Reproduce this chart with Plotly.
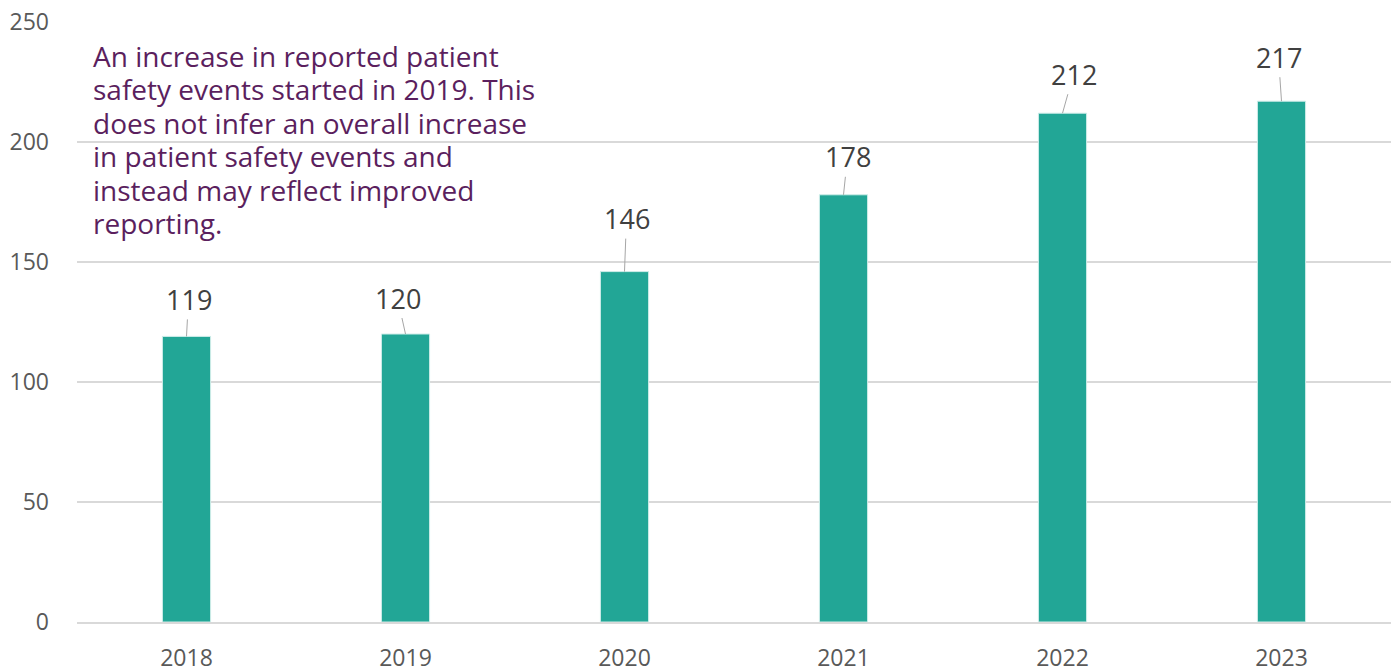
import plotly.graph_objects as go

years = ["2018", "2019", "2020", "2021", "2022", "2023"]
events = [119, 120, 146, 178, 212, 217]
label_dx = [2, -8, 2, 4, 11, -3]
label_dy = [-37, -36, -53, -38, -39, -44]
note_lines = [
    "An increase in reported patient",
    "safety events started in 2019. This",
    "does not infer an overall increase",
    "in patient safety events and",
    "instead may reflect improved",
    "reporting.",
]

FONT = "Open Sans"
fig = go.Figure(go.Bar(
    x=years, y=events,
    marker=dict(color="#22A696", line=dict(color="#CFEDE9", width=1)),
    width=0.22,
    hoverinfo="x+y",
))

for i, (v, dx, dy) in enumerate(zip(events, label_dx, label_dy)):
    fig.add_annotation(
        x=i, y=v, xref="x", yref="y", text=str(v), showarrow=True, arrowhead=0,
        arrowwidth=1, arrowcolor="#A6A6A6", ax=dx, ay=dy, standoff=0,
        font=dict(family=FONT, size=27, color="#404040"),
    )

for k, line in enumerate(note_lines):
    yc = 56 + 33.4 * k  # pixel from top of figure
    fig.add_annotation(
        xref="paper", yref="paper", x=0.0115, y=(622 - yc) / 600,
        xanchor="left", yanchor="middle", borderpad=0,
        text=line, showarrow=False, align="left",
        font=dict(family=FONT, size=28, color="#5B1F5E"),
    )

fig.update_layout(
    width=1398, height=668,
    margin=dict(l=77, r=7, t=22, b=46),
    plot_bgcolor="white", paper_bgcolor="white",
    showlegend=False,
    font=dict(family=FONT, color="#595959"),
    xaxis=dict(
        type="category", range=[-0.5, 5.5], showgrid=False, automargin=False,
        showline=True, linecolor="#D9D9D9", linewidth=2,
        ticks="", tickfont=dict(size=23, color="#595959"),
        ticklabelstandoff=14,
    ),
    yaxis=dict(
        range=[0, 250], tickvals=[0, 50, 100, 150, 200, 250], automargin=False,
        showgrid=True, gridcolor="#D9D9D9", gridwidth=1.5,
        zeroline=False, showline=False, ticks="",
        tickfont=dict(size=23, color="#595959"),
        ticklabelstandoff=27,
    ),
)

fig.write_html("out.html", config={"displayModeBar": False},
               post_script="document.body.style.margin='0';")
